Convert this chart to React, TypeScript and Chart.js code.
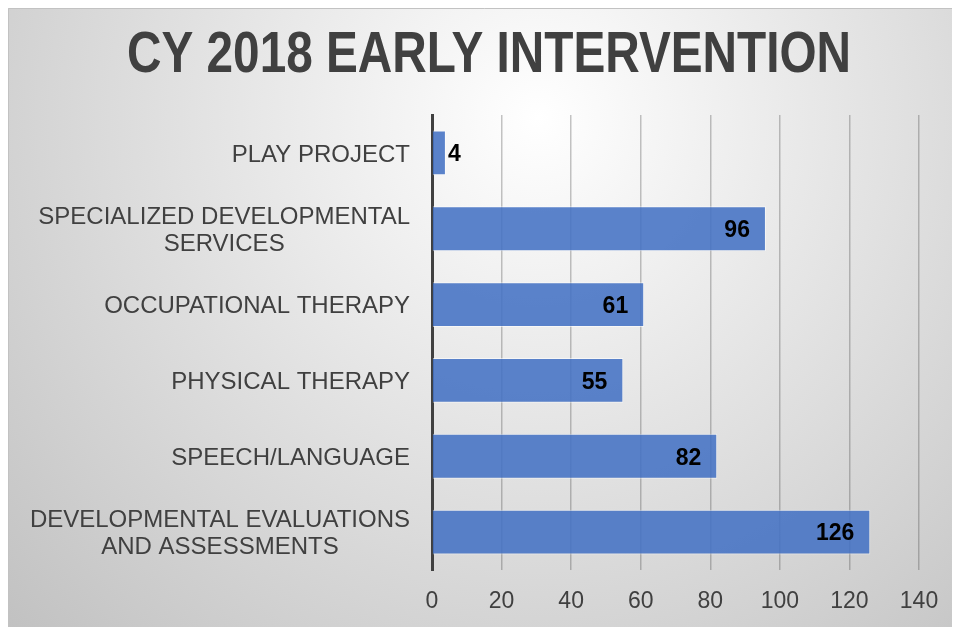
import React, { useEffect, useRef } from "react";
import { Chart, registerables } from "chart.js";

Chart.register(...registerables);

const TITLE = "CY 2018 EARLY INTERVENTION";
const categories: string[][] = [
  ["PLAY PROJECT"],
  ["SPECIALIZED DEVELOPMENTAL", "SERVICES"],
  ["OCCUPATIONAL THERAPY"],
  ["PHYSICAL THERAPY"],
  ["SPEECH/LANGUAGE"],
  ["DEVELOPMENTAL EVALUATIONS", "AND ASSESSMENTS"],
];
const values: number[] = [4, 96, 61, 55, 82, 126];
const xMin = 0;
const xMax = 140;
const xStep = 20;

const FONT = '"Liberation Sans", Arial, Helvetica, sans-serif';
const W = 952;
const H = 619;

const backgroundPlugin = {
  id: "bgPanel",
  beforeDraw(chart: any) {
    const { ctx } = chart;
    ctx.save();
    const g = ctx.createRadialGradient(530, 110, 0, 530, 110, 750);
    g.addColorStop(0, "#ffffff");
    g.addColorStop(1, "#c0c0c0");
    ctx.fillStyle = g;
    ctx.fillRect(0, 0, W, H);
    ctx.strokeStyle = "#c2c2c2";
    ctx.lineWidth = 1;
    ctx.beginPath();
    ctx.moveTo(0.5, H);
    ctx.lineTo(0.5, 0.5);
    ctx.lineTo(W, 0.5);
    ctx.stroke();
    ctx.restore();
  },
};

const titlePlugin = {
  id: "narrowTitle",
  afterDraw(chart: any) {
    const { ctx } = chart;
    ctx.save();
    ctx.font = `bold 58px ${FONT}`;
    ctx.fillStyle = "#404040";
    ctx.textAlign = "center";
    ctx.textBaseline = "alphabetic";
    const target = 724;
    const m = ctx.measureText(TITLE).width;
    const sx = target / m;
    ctx.translate(481, 64);
    ctx.scale(sx, 1);
    ctx.fillText(TITLE, 0, 0);
    ctx.restore();
  },
};

const yLabelPlugin = {
  id: "yLabels",
  afterDraw(chart: any) {
    const { ctx } = chart;
    const y = chart.scales.y;
    ctx.save();
    ctx.font = `24px ${FONT}`;
    ctx.fillStyle = "#404040";
    ctx.textAlign = "center";
    ctx.textBaseline = "middle";
    const rightX = 402;
    const lh = 27;
    categories.forEach((lines, i) => {
      const cy = y.getPixelForValue(i) + 2;
      const w = Math.max(...lines.map((l) => ctx.measureText(l).width));
      const cx = rightX - w / 2;
      const top = cy - ((lines.length - 1) * lh) / 2;
      lines.forEach((l, j) => ctx.fillText(l, cx, top + j * lh));
    });
    ctx.restore();
  },
};

const dataLabelPlugin = {
  id: "valueLabels",
  afterDatasetsDraw(chart: any) {
    const { ctx } = chart;
    const meta = chart.getDatasetMeta(0);
    ctx.save();
    ctx.font = `bold 23px ${FONT}`;
    ctx.fillStyle = "#000000";
    ctx.textBaseline = "middle";
    meta.data.forEach((bar: any, i: number) => {
      const txt = String(values[i]);
      const tw = ctx.measureText(txt).width;
      const len = bar.x - bar.base;
      if (tw + 32 < len) {
        ctx.textAlign = "right";
        ctx.fillText(txt, bar.x - 16, bar.y + 2);
      } else {
        ctx.textAlign = "left";
        ctx.fillText(txt, bar.x + 2, bar.y + 2);
      }
    });
    ctx.restore();
  },
};

export default function App() {
  const ref = useRef<HTMLCanvasElement | null>(null);
  useEffect(() => {
    if (!ref.current) return;
    const chart = new Chart(ref.current, {
      type: "bar",
      data: {
        labels: categories.map((c) => c.join(" ")),
        datasets: [
          {
            data: values,
            backgroundColor: "rgba(68,114,196,0.88)",
            borderColor: "rgba(255,255,255,0.55)",
            borderWidth: 1,
            categoryPercentage: 1,
            barPercentage: 0.592,
          },
        ],
      },
      options: {
        indexAxis: "y",
        responsive: false,
        animation: false,
        devicePixelRatio: 1,
        layout: { padding: { top: 107, right: 41, bottom: 0, left: 0 } },
        plugins: {
          legend: { display: false },
          title: { display: false },
          tooltip: { enabled: false },
        },
        scales: {
          x: {
            min: xMin,
            max: xMax,
            ticks: {
              stepSize: xStep,
              padding: 18,
              color: "#404040",
              font: { family: FONT, size: 23 },
            },
            grid: {
              color: "rgba(60,60,60,0.3)",
              lineWidth: 1.5,
              drawTicks: false,
            },
            border: { display: false },
            afterFit(scale: any) {
              scale.height = 57;
            },
          },
          y: {
            ticks: { display: false },
            grid: { display: false, drawTicks: false },
            border: { display: true, color: "#404040", width: 3 },
            afterFit(scale: any) {
              scale.width = 424;
            },
          },
        },
      },
      plugins: [backgroundPlugin, titlePlugin, yLabelPlugin, dataLabelPlugin],
    } as any);
    return () => chart.destroy();
  }, []);
  return (
    <canvas
      ref={ref}
      width={W}
      height={H}
      style={{ display: "block", width: W, height: H }}
    />
  );
}
